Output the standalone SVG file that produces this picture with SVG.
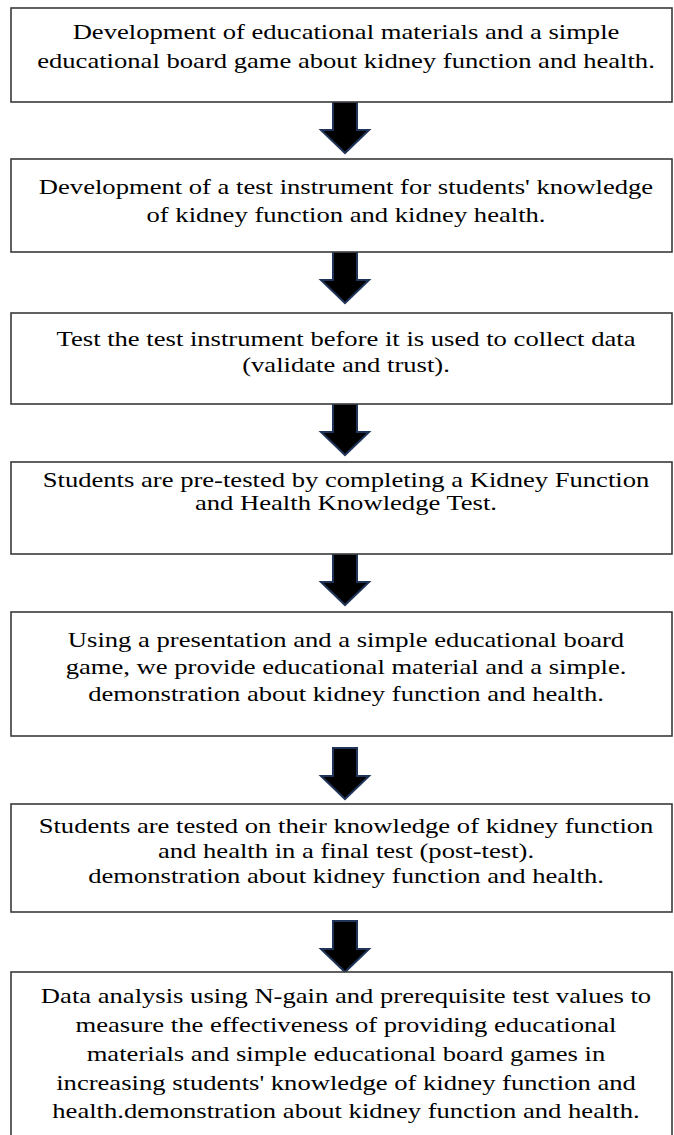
<svg xmlns="http://www.w3.org/2000/svg" width="674" height="1135" viewBox="0 0 674 1135">
<defs>
<style>
.box{fill:#ffffff;stroke:#3a3a3a;stroke-width:1.6}
.t{font-family:"Liberation Serif","DejaVu Serif",serif;font-size:22px;fill:#000;text-anchor:middle}
.arr{fill:#000;stroke:#1f3458;stroke-width:2;stroke-linejoin:miter}
</style>
<path id="arrow" d="M-12,0 L12,0 L12,28 L24,28 L0,51 L-24,28 L-12,28 Z"/>
</defs>
<rect width="674" height="1135" fill="#ffffff"/>
<g id="connectors">
<use href="#arrow" class="arr" x="345" y="102"/>
<use href="#arrow" class="arr" x="345" y="252"/>
<use href="#arrow" class="arr" x="345" y="404"/>
<use href="#arrow" class="arr" x="345" y="554"/>
<use href="#arrow" class="arr" x="345" y="748"/>
<use href="#arrow" class="arr" x="345" y="921"/>
</g>
<g id="node1">
<rect class="box" x="11" y="8" width="661" height="94"/>
<g transform="translate(346,0) scale(1.21,1)">
<text class="t" x="0" y="39.5">Development of educational materials and a simple</text>
<text class="t" x="0" y="68.5">educational board game about kidney function and health.</text>
</g>
</g>
<g id="node2">
<rect class="box" x="11" y="159" width="661" height="93"/>
<g transform="translate(346,0) scale(1.21,1)">
<text class="t" x="0" y="194">Development of a test instrument for students' knowledge</text>
<text class="t" x="0" y="222">of kidney function and kidney health.</text>
</g>
</g>
<g id="node3">
<rect class="box" x="11" y="313" width="661" height="91"/>
<g transform="translate(346,0) scale(1.21,1)">
<text class="t" x="0" y="346.5">Test the test instrument before it is used to collect data</text>
<text class="t" x="0" y="372">(validate and trust).</text>
</g>
</g>
<g id="node4">
<rect class="box" x="11" y="462" width="661" height="92"/>
<g transform="translate(346,0) scale(1.21,1)">
<text class="t" x="0" y="487">Students are pre-tested by completing a Kidney Function</text>
<text class="t" x="0" y="510">and Health Knowledge Test.</text>
</g>
</g>
<g id="node5">
<rect class="box" x="11" y="612" width="661" height="124"/>
<g transform="translate(346,0) scale(1.21,1)">
<text class="t" x="0" y="647">Using a presentation and a simple educational board</text>
<text class="t" x="0" y="674.5">game, we provide educational material and a simple.</text>
<text class="t" x="0" y="701">demonstration about kidney function and health.</text>
</g>
</g>
<g id="node6">
<rect class="box" x="11" y="804" width="661" height="108"/>
<g transform="translate(346,0) scale(1.21,1)">
<text class="t" x="0" y="833">Students are tested on their knowledge of kidney function</text>
<text class="t" x="0" y="858">and health in a final test (post-test).</text>
<text class="t" x="0" y="883">demonstration about kidney function and health.</text>
</g>
</g>
<g id="node7">
<rect class="box" x="11" y="972" width="661" height="180"/>
<g transform="translate(346,0) scale(1.21,1)">
<text class="t" x="0" y="1003">Data analysis using N-gain and prerequisite test values to</text>
<text class="t" x="0" y="1032">measure the effectiveness of providing educational</text>
<text class="t" x="0" y="1061">materials and simple educational board games in</text>
<text class="t" x="0" y="1090">increasing students' knowledge of kidney function and</text>
<text class="t" x="0" y="1118.5">health.demonstration about kidney function and health.</text>
</g>
</g>
</svg>
